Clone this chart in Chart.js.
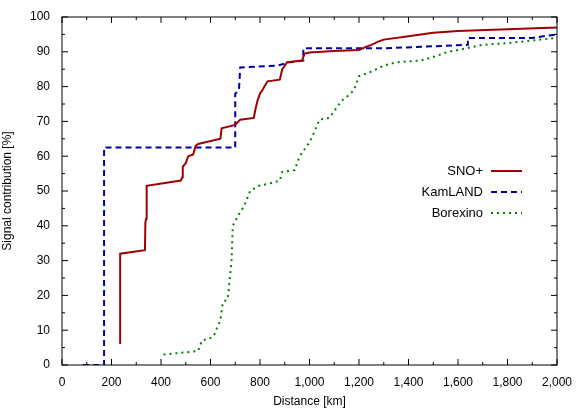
<!DOCTYPE html>
<html><head><meta charset="utf-8">
<script src="https://cdn.jsdelivr.net/npm/chart.js@4"></script>
<style>body{margin:0;background:#fff}#wrap{width:581px;height:411px}</style>
</head><body><div id="wrap"><canvas id="c"></canvas></div>
<script>
// Distance [km] and signal contribution [%]
const snoX = [235,235,335,337,340,342,480,487,488,500,510,530,540,550,640,645,700,720,775,780,790,800,810,830,880,890,900,910,970,980,1000,1100,1200,1230,1250,1280,1300,1400,1450,1500,1600,1800,2000];
const snoY = [6,32,33,41,42,51.5,53,54,57,58,60,60.5,63,63.5,65,68,69,70.5,71,73,76,78,79,81.5,82,85,86,87,87.5,89.5,89.8,90.2,90.5,91.5,92,93,93.5,94.5,95,95.5,96,96.5,97];
const kamX = [85,170,170,700,700,715,720,870,920,975,975,1300,1640,1640,1900,2000];
const kamY = [0,0,62.5,62.5,78,79,85.5,86,87,87.5,91,91,92,94,94,95];
const borX = [410,550,565,610,620,640,650,670,685,690,705,720,735,760,795,830,880,890,940,960,980,1000,1020,1040,1080,1100,1130,1150,1180,1200,1240,1300,1350,1450,1500,1560,1600,1700,1800,2000];
const borY = [3,4,7,8,9.5,13,18,19,30,40,42,44,45.5,50,51.5,52,53,55.5,56,60,62,64,67,70.5,71,73,76,77,79,83,84,86,87,87.5,88.5,90,90.5,92,92.5,94];
const seriesNames = ['SNO+','KamLAND','Borexino'];
const seriesColors = ['#a00000','#0000a0','#008000'];
const seriesDash = [[],[6,4],[2,4]];

const pts = (xs, ys) => xs.map((x, i) => ({x: x, y: ys[i]}));
const allData = [pts(snoX, snoY), pts(kamX, kamY), pts(borX, borY)];

const F = 'Liberation Sans, Arial, sans-serif';

const frame = {
  id: 'frame',
  afterDraw(chart) {
    const {ctx, chartArea: a, scales: {x, y}} = chart;
    ctx.save();
    ctx.strokeStyle = '#000';
    ctx.lineWidth = 1;
    ctx.strokeRect(a.left, a.top, a.right - a.left, a.bottom - a.top);
    ctx.beginPath();
    for (let v = 0; v <= 2000; v += 100) {
      const px = x.getPixelForValue(v), len = v % 200 ? 3 : 6;
      ctx.moveTo(px, a.bottom); ctx.lineTo(px, a.bottom - len);
      ctx.moveTo(px, a.top); ctx.lineTo(px, a.top + len);
    }
    for (let v = 0; v <= 100; v += 5) {
      const py = y.getPixelForValue(v), len = v % 10 ? 3 : 6;
      ctx.moveTo(a.left, py); ctx.lineTo(a.left + len, py);
      ctx.moveTo(a.right, py); ctx.lineTo(a.right - len, py);
    }
    ctx.stroke();
    // legend: text right-aligned, sample line on right
    ctx.font = '13px ' + F;
    ctx.textAlign = 'right';
    ctx.textBaseline = 'middle';
    seriesNames.forEach((n, i) => {
      const ly = 171 + i * 21;
      ctx.fillStyle = '#000';
      ctx.fillText(n, 483, ly);
      ctx.strokeStyle = seriesColors[i];
      ctx.lineWidth = 2;
      ctx.setLineDash(seriesDash[i]);
      ctx.beginPath(); ctx.moveTo(491, ly); ctx.lineTo(522, ly); ctx.stroke();
    });
    ctx.restore();
  }
};

new Chart(document.getElementById('c'), {
  type: 'scatter',
  data: {
    datasets: allData.map((d, i) => ({
      label: seriesNames[i], data: d, showLine: true, pointRadius: 0,
      borderColor: seriesColors[i], borderWidth: 2, borderDash: seriesDash[i], tension: 0
    }))
  },
  options: {
    responsive: true, maintainAspectRatio: false, animation: false,
    layout: {padding: {top: 17, right: 24, left: 0, bottom: 0}},
    plugins: {legend: {display: false}, tooltip: {enabled: false}},
    scales: {
      x: {
        type: 'linear', min: 0, max: 2000,
        ticks: {stepSize: 200, color: '#000', font: {family: F, size: 12}, maxRotation: 0, padding: 2},
        grid: {display: false}, border: {display: false},
        title: {display: true, text: 'Distance [km]', color: '#000', font: {family: F, size: 12}, padding: {top: 0, bottom: 2}},
        afterFit(s) { s.height = 46; }
      },
      y: {
        min: 0, max: 100,
        ticks: {stepSize: 10, color: '#000', font: {family: F, size: 12}, padding: 4},
        grid: {display: false}, border: {display: false},
        title: {display: true, text: 'Signal contribution [%]', color: '#000', font: {family: F, size: 12}, padding: {top: 0, bottom: 4}},
        afterFit(s) { s.width = 62; }
      }
    }
  },
  plugins: [frame]
});
</script></body></html>
